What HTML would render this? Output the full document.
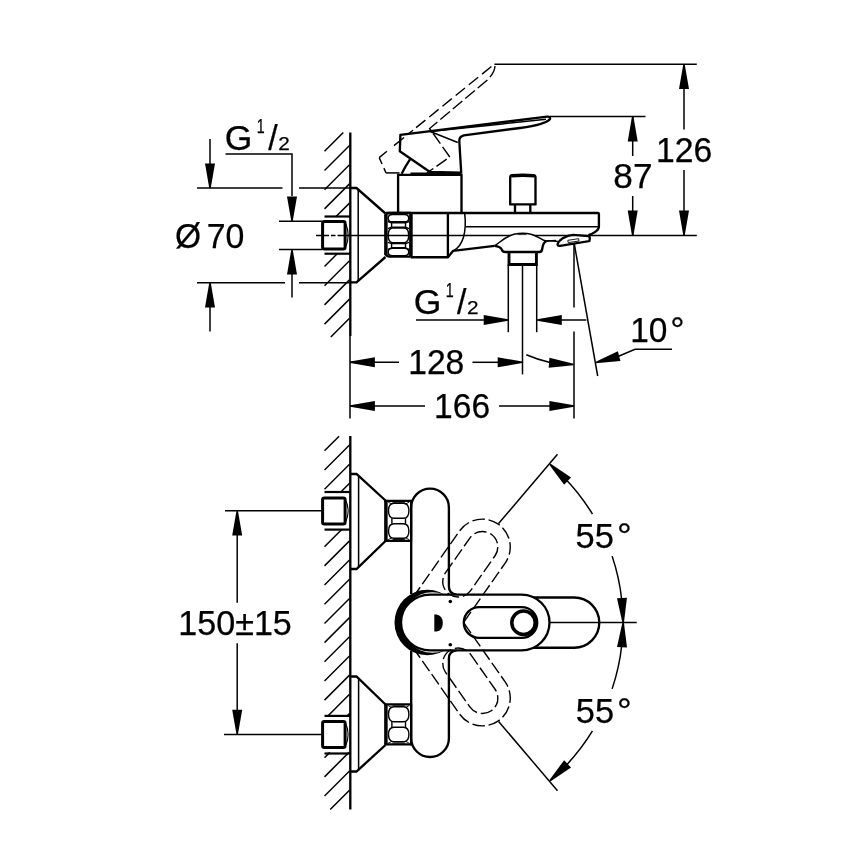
<!DOCTYPE html>
<html><head><meta charset="utf-8"><title>Drawing</title>
<style>
html,body{margin:0;padding:0;background:#fff;width:868px;height:868px;overflow:hidden}
svg{display:block;will-change:transform}
text{font-family:"Liberation Sans",sans-serif;fill:#000;stroke:#000;stroke-width:0.25px;stroke-linejoin:round}
.t{stroke:#000;stroke-width:1.5;fill:none}
.n{stroke:#000;stroke-width:1.4;fill:none}
.h{stroke:#000;stroke-width:1.5;fill:none}
.m{stroke:#000;stroke-width:2.2;fill:none}
.k{stroke:#000;stroke-width:2.35;fill:none}
.d{stroke:#000;stroke-width:1.4;fill:none;stroke-dasharray:12.5 3.8}
.a{fill:#000;stroke:none}
</style></head><body>
<svg width="868" height="868" viewBox="0 0 868 868">
<rect width="868" height="868" fill="#fff"/>
<line class="k" x1="350.30" y1="132.50" x2="350.30" y2="336.00"/>
<line class="t" x1="350.00" y1="336.00" x2="350.00" y2="418.60"/>
<line class="h" x1="324.50" y1="151.30" x2="343.30" y2="132.50"/>
<line class="h" x1="324.50" y1="170.50" x2="349.50" y2="145.50"/>
<line class="h" x1="324.50" y1="189.70" x2="349.50" y2="164.70"/>
<line class="h" x1="324.50" y1="208.90" x2="349.50" y2="183.90"/>
<line class="h" x1="335.80" y1="216.80" x2="349.50" y2="203.10"/>
<line class="h" x1="324.50" y1="266.50" x2="337.50" y2="253.50"/>
<line class="h" x1="324.50" y1="285.70" x2="349.50" y2="260.70"/>
<line class="h" x1="324.50" y1="304.90" x2="349.50" y2="279.90"/>
<line class="h" x1="324.50" y1="324.10" x2="349.50" y2="299.10"/>
<line class="h" x1="330.80" y1="337.00" x2="349.50" y2="318.30"/>
<line class="t" x1="197.00" y1="188.00" x2="282.50" y2="188.00"/>
<line class="t" x1="299.00" y1="188.00" x2="350.00" y2="188.00"/>
<line class="t" x1="197.00" y1="282.80" x2="285.00" y2="282.80"/>
<line class="t" x1="299.00" y1="282.80" x2="350.00" y2="282.80"/>
<line class="t" x1="210.00" y1="139.00" x2="210.00" y2="165.00"/>
<polygon class="a" points="209.25,188.00 205.00,163.40 215.00,163.40 210.75,188.00"/>
<line class="t" x1="210.00" y1="305.00" x2="210.00" y2="331.60"/>
<polygon class="a" points="210.75,282.80 215.00,307.40 205.00,307.40 209.25,282.80"/>
<text><tspan x="174.97" y="247.60" font-size="34.15" textLength="26.09" lengthAdjust="spacingAndGlyphs">Ø</tspan><tspan x="206.75" y="247.70" font-size="34.15" textLength="37.68" lengthAdjust="spacingAndGlyphs">70</tspan></text>
<text><tspan x="224.85" y="150.15" font-size="35.7" textLength="27.60" lengthAdjust="spacingAndGlyphs">G</tspan><tspan x="256.86" y="132.95" font-size="20.3" textLength="7.91" lengthAdjust="spacingAndGlyphs">1</tspan><tspan x="268.23" y="150.15" font-size="34.15" textLength="9.46" lengthAdjust="spacingAndGlyphs">/</tspan><tspan x="278.19" y="149.95" font-size="19.1" textLength="11.55" lengthAdjust="spacingAndGlyphs">2</tspan></text>
<path class="t" d="M225.5,154 H292 V196"/>
<polygon class="a" points="291.25,221.00 287.00,196.40 297.00,196.40 292.75,221.00"/>
<line class="t" x1="279.00" y1="221.20" x2="322.00" y2="221.20"/>
<line class="t" x1="279.00" y1="249.60" x2="322.00" y2="249.60"/>
<polygon class="a" points="292.75,249.80 297.00,274.40 287.00,274.40 291.25,249.80"/>
<line class="t" x1="292.00" y1="274.00" x2="292.00" y2="297.50"/>
<line class="m" x1="324.50" y1="216.50" x2="350.00" y2="216.50"/>
<line class="m" x1="324.50" y1="253.70" x2="350.00" y2="253.70"/>
<rect x="322.6" y="221.4" width="22.5" height="27.7" rx="1.8" fill="#fff" stroke="#000" stroke-width="3"/>
<path class="t" d="M346,224.3 Q350.3,235.3 346,246.2" style="stroke-width:1.1"/>
<path class="t" d="M316,235.4 H329 M331,235.4 H335.5 M337.5,235.4 H696.8"/>
<path class="k" d="M350,188 H356.5 L385.5,213.5 M350,282.4 H356.5 L385.5,257"/>
<line class="t" x1="358.20" y1="189.50" x2="358.20" y2="281.00"/>
<path class="k" d="M385.90000000000003,214.4 V255.10000000000002" style="stroke-width:3.5"/>
<path class="k" d="M410.9,212.9 V256.6" style="stroke-width:3.6"/>
<path class="k" d="M385.5,216.3 Q385.90000000000003,212.9 389.8,212.9 H410.9 M385.5,253.20000000000002 Q385.90000000000003,256.6 389.8,256.6 H410.9"/>
<path class="n" d="M388.2,218.15 Q388.2,214.5 392.4,214.5 H404.5 Q408.7,214.5 408.7,218.15 Q408.7,221.8 404.5,221.8 H392.4 Q388.2,221.8 388.2,218.15 Z"/>
<path class="n" d="M388.2,235.35000000000002 Q388.2,228.0 392.7,228.0 H404.2 Q408.7,228.0 408.7,235.35000000000002 Q408.7,242.70000000000002 404.2,242.70000000000002 H392.7 Q388.2,242.70000000000002 388.2,235.35000000000002 Z"/>
<path class="n" d="M388.2,252.05 Q388.2,248.40000000000003 392.4,248.40000000000003 H404.5 Q408.7,248.40000000000003 408.7,252.05 Q408.7,255.70000000000002 404.5,255.70000000000002 H392.4 Q388.2,255.70000000000002 388.2,252.05 Z"/>
<path class="n" d="M391.59999999999997,222.8 H405.5 V227.20000000000002 H391.59999999999997 Z"/>
<path class="n" d="M387.9,221.5 L391.59999999999997,222.8 M387.9,228.70000000000002 L391.59999999999997,227.20000000000002 M409.0,221.5 L405.5,222.8 M409.0,228.70000000000002 L405.5,227.20000000000002"/>
<path class="n" d="M391.59999999999997,243.60000000000002 H405.5 V247.8 H391.59999999999997 Z"/>
<path class="n" d="M387.9,242.3 L391.59999999999997,243.60000000000002 M387.9,249.3 L391.59999999999997,247.8 M409.0,242.3 L405.5,243.60000000000002 M409.0,249.3 L405.5,247.8"/>
<path class="k" d="M386,213 H597.9 Q598.9,213 598.9,214 V227.2 Q598,231 591.8,233.8 L588.5,235.2"/>
<path class="k" d="M410.8,257.2 H447.9 L453.2,250.8 L494.5,245.9" style="stroke-linejoin:round"/>
<line class="k" x1="447.90" y1="212.70" x2="447.90" y2="257.20"/>
<path class="t" d="M464.6,212.7 C467,232 463,246 453.2,250.8"/>
<line class="t" x1="466.00" y1="226.80" x2="598.50" y2="226.80"/>
<path class="k" d="M398.1,212.7 V174.9 H461.5 V212.7"/>
<path class="k" d="M400.4,134.9 L399.8,151.3 L429.6,171.8 L461.2,172.6 L459.3,141 Q459.2,136.5 463.8,135.3 L520,128 Q546,124.5 550,119 Q550.5,116.3 547,116.7 L400.4,134.9 Z" style="stroke-linejoin:round"/>
<path class="t" d="M429.6,131.3 L457.8,142.5 M429.6,131.5 L500,124.2 Q530,121 546,119.2"/>
<path class="k" d="M401.7,173.8 Q405,166.6 410,159.3"/>
<path class="k" d="M410.5,173.7 H461" style="stroke-width:2.6"/>
<path class="d" d="M379.2,157.6 L494,64.4" style="stroke-dasharray:10 9 13 6.5 5 4 12 5 12 5 12 5 12 5 12 5 12 5 12 5 12 5"/>
<path class="d" d="M379.2,157.6 L386,172.9" style="stroke-dasharray:7 4.5 6 0"/>
<line class="t" x1="386.00" y1="172.90" x2="399.50" y2="172.90"/>
<path class="d" d="M495,66 Q494.5,74 485,82 L429.6,128.5 L449.8,157 L427,172.9"/>
<path class="k" d="M512.2,175.2 Q522.8,174.2 533.5,175.2 Q535.5,175.4 535.5,177.4 V204.4 H510.2 V177.4 Q510.2,175.4 512.2,175.2 Z" style="stroke-linejoin:round"/>
<path class="k" d="M511.2,176.3 Q522.8,175.2 534.5,176.3" style="stroke-width:2.6"/>
<path class="k" d="M515,204.5 V212.7 M530.3,204.5 V212.7"/>
<path d="M494.5,245.9 C501,241.5 506,236.2 514,234.2 Q523,232.2 531,234.2 C538,235.8 541.5,240.4 546.3,241.1 L542,252 H503 Z" fill="#fff"/>
<path class="t" d="M494.5,245.9 C501,241.5 506,236.2 514,234.2 Q523,232.2 531,234.2 C538,235.8 541.5,240.4 546.3,241.1 L556,240.4"/>
<line class="t" style="stroke-width:0.8" x1="517.50" y1="234.60" x2="526.50" y2="234.60"/>
<path class="k" d="M494.5,245.9 Q500.5,246.6 501.8,249.6 Q502.6,252 505.5,252 H539.5 Q541.9,252 542.3,248.5 Q543,242.6 546.3,241.1"/>
<path class="k" d="M509,252 V264.5 H536.4 V252" style="stroke-width:2.9"/>
<path class="t" d="M546.3,241.1 Q551,240.2 557.9,241.6"/>
<g transform="translate(0,0.6)">
<path class="k" d="M557.7,243 Q558.5,240.5 562.7,237.6 Q568,234.4 573.2,234.2 L588.3,235.6 Q590,236 589.8,238 L589.4,240.5 L560,245.3 Q557,245.5 557.7,243 Z" style="fill:#fff;stroke-width:2.3"/>
<path class="t" d="M567.8,239.7 L578.6,238.1 L579,240.4 L568.2,242 Z" style="stroke-width:0.9"/>
</g>
<line class="t" x1="508.30" y1="264.50" x2="508.30" y2="332.20"/>
<line class="t" x1="522.50" y1="264.50" x2="522.50" y2="374.40"/>
<line class="t" x1="536.70" y1="264.50" x2="536.70" y2="332.20"/>
<text><tspan x="413.65" y="313.85" font-size="35.7" textLength="27.60" lengthAdjust="spacingAndGlyphs">G</tspan><tspan x="445.66" y="296.65" font-size="20.3" textLength="7.91" lengthAdjust="spacingAndGlyphs">1</tspan><tspan x="457.03" y="313.85" font-size="34.15" textLength="9.46" lengthAdjust="spacingAndGlyphs">/</tspan><tspan x="466.99" y="313.65" font-size="19.1" textLength="11.55" lengthAdjust="spacingAndGlyphs">2</tspan></text>
<line class="t" x1="416.00" y1="320.00" x2="486.00" y2="320.00"/>
<polygon class="a" points="508.30,320.75 483.70,325.00 483.70,315.00 508.30,319.25"/>
<polygon class="a" points="537.20,319.25 561.80,315.00 561.80,325.00 537.20,320.75"/>
<line class="t" x1="560.00" y1="320.00" x2="586.30" y2="320.00"/>
<line class="t" x1="350.00" y1="362.30" x2="399.00" y2="362.30"/>
<line class="t" x1="472.50" y1="362.30" x2="500.00" y2="362.30"/>
<polygon class="a" points="350.30,361.55 374.90,357.30 374.90,367.30 350.30,363.05"/>
<polygon class="a" points="522.30,363.05 497.70,367.30 497.70,357.30 522.30,361.55"/>
<text><tspan x="408.20" y="374.20" font-size="34.15" textLength="56.14" lengthAdjust="spacingAndGlyphs">128</tspan></text>
<line class="t" x1="350.00" y1="406.00" x2="425.00" y2="406.00"/>
<line class="t" x1="499.00" y1="406.00" x2="552.00" y2="406.00"/>
<polygon class="a" points="350.30,405.25 374.90,401.00 374.90,411.00 350.30,406.75"/>
<polygon class="a" points="574.00,406.75 549.40,411.00 549.40,401.00 574.00,405.25"/>
<text><tspan x="434.11" y="417.70" font-size="34.15" textLength="56.03" lengthAdjust="spacingAndGlyphs">166</tspan></text>
<line class="t" x1="574.00" y1="244.00" x2="574.00" y2="307.50"/>
<line class="t" x1="574.00" y1="331.40" x2="574.00" y2="418.50"/>
<line class="t" x1="574.30" y1="244.00" x2="597.70" y2="376.00"/>
<path class="t" d="M526.3,354.8 Q538,359.8 550,362.6"/>
<polygon class="a" points="573.55,365.15 548.71,367.67 549.41,357.69 573.65,363.65"/>
<polygon class="a" points="595.20,361.88 617.85,351.36 620.45,361.01 595.60,363.32"/>
<path class="t" d="M618,356.5 L635,349.3 H672"/>
<text><tspan x="630.22" y="341.50" font-size="34.15" textLength="37.19" lengthAdjust="spacingAndGlyphs">10</tspan><tspan x="670.17" y="341.50" font-size="34.15" textLength="14.35" lengthAdjust="spacingAndGlyphs">°</tspan></text>
<line class="t" x1="494.40" y1="64.35" x2="696.80" y2="64.35"/>
<line class="t" x1="549.50" y1="116.60" x2="645.50" y2="116.60"/>
<line class="t" x1="684.00" y1="64.30" x2="684.00" y2="129.50"/>
<line class="t" x1="684.00" y1="170.00" x2="684.00" y2="235.40"/>
<polygon class="a" points="684.75,64.50 689.00,89.10 679.00,89.10 683.25,64.50"/>
<polygon class="a" points="683.25,235.20 679.00,210.60 689.00,210.60 684.75,235.20"/>
<text><tspan x="655.90" y="162.00" font-size="34.15" textLength="56.25" lengthAdjust="spacingAndGlyphs">126</tspan></text>
<line class="t" x1="632.70" y1="116.60" x2="632.70" y2="156.00"/>
<line class="t" x1="632.70" y1="196.00" x2="632.70" y2="235.40"/>
<polygon class="a" points="633.45,116.80 637.70,141.40 627.70,141.40 631.95,116.80"/>
<polygon class="a" points="631.95,235.20 627.70,210.60 637.70,210.60 633.45,235.20"/>
<text><tspan x="613.33" y="188.30" font-size="34.15" textLength="39.19" lengthAdjust="spacingAndGlyphs">87</tspan></text>
<line class="k" x1="350.30" y1="436.00" x2="350.30" y2="809.50"/>
<line class="h" x1="324.50" y1="450.80" x2="339.10" y2="436.20"/>
<line class="h" x1="324.50" y1="469.98" x2="349.50" y2="444.98"/>
<line class="h" x1="324.50" y1="489.16" x2="349.50" y2="464.16"/>
<line class="h" x1="340.84" y1="492.00" x2="349.50" y2="483.34"/>
<line class="h" x1="324.50" y1="546.70" x2="341.70" y2="529.50"/>
<line class="h" x1="324.50" y1="565.88" x2="349.50" y2="540.88"/>
<line class="h" x1="324.50" y1="585.06" x2="349.50" y2="560.06"/>
<line class="h" x1="324.50" y1="604.24" x2="349.50" y2="579.24"/>
<line class="h" x1="324.50" y1="623.42" x2="349.50" y2="598.42"/>
<line class="h" x1="324.50" y1="642.60" x2="349.50" y2="617.60"/>
<line class="h" x1="324.50" y1="661.78" x2="349.50" y2="636.78"/>
<line class="h" x1="324.50" y1="680.96" x2="349.50" y2="655.96"/>
<line class="h" x1="324.50" y1="700.14" x2="349.50" y2="675.14"/>
<line class="h" x1="328.12" y1="715.70" x2="349.50" y2="694.32"/>
<line class="h" x1="347.30" y1="715.70" x2="349.50" y2="713.50"/>
<line class="h" x1="324.50" y1="757.68" x2="329.78" y2="752.40"/>
<line class="h" x1="324.50" y1="776.86" x2="348.96" y2="752.40"/>
<line class="h" x1="324.50" y1="796.04" x2="349.50" y2="771.04"/>
<line class="h" x1="330.22" y1="809.50" x2="349.50" y2="790.22"/>
<line class="t" x1="225.00" y1="510.80" x2="322.50" y2="510.80"/>
<line class="t" x1="224.00" y1="734.60" x2="321.00" y2="734.60"/>
<line class="t" x1="237.20" y1="534.00" x2="237.20" y2="602.70"/>
<line class="t" x1="237.20" y1="643.30" x2="237.20" y2="710.00"/>
<polygon class="a" points="237.95,511.00 242.20,535.60 232.20,535.60 236.45,511.00"/>
<polygon class="a" points="236.45,734.30 232.20,709.70 242.20,709.70 237.95,734.30"/>
<text><tspan x="178.27" y="635.00" font-size="34.15" textLength="113.56" lengthAdjust="spacingAndGlyphs">150±15</tspan></text>
<g><line class="m" x1="324.50" y1="492.00" x2="350.00" y2="492.00"/><line class="m" x1="324.50" y1="529.60" x2="350.00" y2="529.60"/><rect x="322.6" y="497.9" width="22.5" height="26.1" rx="1.8" fill="#fff" stroke="#000" stroke-width="3"/><path class="t" d="M346,500.8 Q350.3,511 346,521.2" style="stroke-width:1.1"/><path class="k" d="M350,474 H356.5 L385.5,500.5 M350,569 H356.5 L385.5,541"/><line class="t" x1="358.60" y1="475.50" x2="358.60" y2="567.50"/></g>
<g transform="matrix(1 0 0 -1 0 1245.5)"><line class="m" x1="324.50" y1="492.00" x2="350.00" y2="492.00"/><line class="m" x1="324.50" y1="529.60" x2="350.00" y2="529.60"/><rect x="322.6" y="497.9" width="22.5" height="26.1" rx="1.8" fill="#fff" stroke="#000" stroke-width="3"/><path class="t" d="M346,500.8 Q350.3,511 346,521.2" style="stroke-width:1.1"/><path class="k" d="M350,474 H356.5 L385.5,500.5 M350,569 H356.5 L385.5,541"/><line class="t" x1="358.60" y1="475.50" x2="358.60" y2="567.50"/></g>
<path class="k" d="M385.90000000000003,500.9 V540.9" style="stroke-width:3.5"/>
<path class="k" d="M384.3,500.9 H411.1 M384.3,540.9 H411.1"/>
<path class="k" d="M411.1,499.9 V541.9" style="stroke-width:2.2"/>
<path class="n" d="M388.5,510.75 Q388.5,503.2 394.0,503.2 H403.40000000000003 Q408.90000000000003,503.2 408.90000000000003,510.75 Q408.90000000000003,518.3 403.40000000000003,518.3 H394.0 Q388.5,518.3 388.5,510.75 Z"/>
<path class="n" d="M388.5,531.05 Q388.5,523.8 394.0,523.8 H403.40000000000003 Q408.90000000000003,523.8 408.90000000000003,531.05 Q408.90000000000003,538.3 403.40000000000003,538.3 H394.0 Q388.5,538.3 388.5,531.05 Z"/>
<path class="n" d="M391.9,518.3 V523.8 M405.50000000000006,518.3 V523.8"/>
<path class="n" style="stroke-width:0.9" d="M392.5,502.29999999999995 H404.90000000000003 M392.5,539.5 H404.90000000000003"/>
<path class="n" style="stroke-width:0.9" d="M388.1,502.09999999999997 L392.1,504.09999999999997 M409.3,502.09999999999997 L405.3,504.09999999999997 M388.1,539.6999999999999 L392.1,537.6999999999999 M409.3,539.6999999999999 L405.3,537.6999999999999"/>
<path class="k" d="M385.90000000000003,704.4 V744.4" style="stroke-width:3.5"/>
<path class="k" d="M384.3,704.4 H411.1 M384.3,744.4 H411.1"/>
<path class="k" d="M411.1,703.4 V745.4" style="stroke-width:2.2"/>
<path class="n" d="M388.5,714.25 Q388.5,706.6999999999999 394.0,706.6999999999999 H403.40000000000003 Q408.90000000000003,706.6999999999999 408.90000000000003,714.25 Q408.90000000000003,721.8 403.40000000000003,721.8 H394.0 Q388.5,721.8 388.5,714.25 Z"/>
<path class="n" d="M388.5,734.55 Q388.5,727.3 394.0,727.3 H403.40000000000003 Q408.90000000000003,727.3 408.90000000000003,734.55 Q408.90000000000003,741.8 403.40000000000003,741.8 H394.0 Q388.5,741.8 388.5,734.55 Z"/>
<path class="n" d="M391.9,721.8 V727.3 M405.50000000000006,721.8 V727.3"/>
<path class="n" style="stroke-width:0.9" d="M392.5,705.8 H404.90000000000003 M392.5,743.0 H404.90000000000003"/>
<path class="n" style="stroke-width:0.9" d="M388.1,705.6 L392.1,707.6 M409.3,705.6 L405.3,707.6 M388.1,743.1999999999999 L392.1,741.1999999999999 M409.3,743.1999999999999 L405.3,741.1999999999999"/>
<path class="k" d="M411.2,594 V507.45000000000005 A18.85,18.85 0 0 1 448.9,507.45000000000005 V586.5 Q449,594 456.5,594.6"/>
<path class="k" d="M411.2,651 V738.15 A18.85,18.85 0 0 0 448.9,738.15 V658.5 Q449,651 456.5,650.4"/>
<path class="k" d="M530,597.5 H574.2 A25.1,25.1 0 0 1 574.2,647.7 H530"/>
<line class="t" x1="550.00" y1="622.60" x2="636.70" y2="622.60"/>
<circle cx="427.3" cy="622.55" r="32.8" fill="#000"/>
<circle cx="432.3" cy="622.5" r="30.2" fill="#fff"/>
<path class="k" d="M430.2,594.6 H521.6 A27.9,27.9 0 0 1 521.6,650.4 H430.2 A29.2,27.9 0 0 1 430.2,594.6 Z" style="fill:#fff"/>
<path class="k" d="M479.2,607.1 H521.8 A15.4,15.4 0 0 1 521.8,637.9 H479.2 A15.4,15.4 0 0 1 479.2,607.1 Z"/>
<circle cx="523.5" cy="622.7" r="11.7" fill="none" stroke="#000" stroke-width="3.5"/>
<circle cx="450.3" cy="601.5" r="1.8" fill="#000"/><circle cx="450.3" cy="644.7" r="1.8" fill="#000"/>
<path d="M434.3,614.4 H436.5 Q442.8,615.5 442.8,623 Q442.8,630.5 436.5,631.6 H434.3 Z" fill="#000"/>
<path class="d" d="M412.95,597.49 L459.64,530.81 A27.9,27.9 0 0 1 505.35,562.81 L463.56,622.50"/>
<path class="d" d="M445.39,572.96 L469.83,538.06 A15.4,15.4 0 0 1 495.06,555.73 L470.62,590.62 A15.4,15.4 0 0 1 445.39,572.96"/>
<path class="d" d="M412.95,647.51 L459.64,714.19 A27.9,27.9 0 0 0 505.35,682.19 L463.56,622.50"/>
<path class="d" d="M470.62,654.38 L495.06,689.27 A15.4,15.4 0 0 1 469.83,706.94 L445.39,672.04 A15.4,15.4 0 0 1 470.62,654.38"/>
<line class="t" x1="498.60" y1="523.60" x2="557.50" y2="454.25"/>
<path class="t" d="M563.12,476.47 A208,208 0 0 1 592.47,514.02"/>
<path class="t" d="M612.13,556.13 A208,208 0 0 1 621.86,600.76"/>
<polygon class="a" points="550.35,463.57 571.03,477.55 564.10,484.77 549.31,464.66"/>
<polygon class="a" points="622.45,622.64 616.98,598.28 626.97,597.78 623.95,622.56"/>
<line class="t" x1="498.60" y1="721.40" x2="557.50" y2="790.75"/>
<path class="t" d="M563.12,768.53 A208,208 0 0 0 592.47,730.98"/>
<path class="t" d="M612.13,688.87 A208,208 0 0 0 621.86,644.24"/>
<polygon class="a" points="549.31,780.34 564.10,760.23 571.03,767.45 550.35,781.43"/>
<polygon class="a" points="623.95,622.64 626.97,647.42 616.98,646.92 622.45,622.56"/>
<text><tspan x="575.64" y="547.70" font-size="34.15" textLength="38.39" lengthAdjust="spacingAndGlyphs">55</tspan><tspan x="616.91" y="547.70" font-size="34.15" textLength="14.78" lengthAdjust="spacingAndGlyphs">°</tspan></text>
<text><tspan x="575.75" y="723.00" font-size="34.15" textLength="38.29" lengthAdjust="spacingAndGlyphs">55</tspan><tspan x="616.91" y="723.00" font-size="34.15" textLength="14.78" lengthAdjust="spacingAndGlyphs">°</tspan></text>
</svg>
</body></html>
